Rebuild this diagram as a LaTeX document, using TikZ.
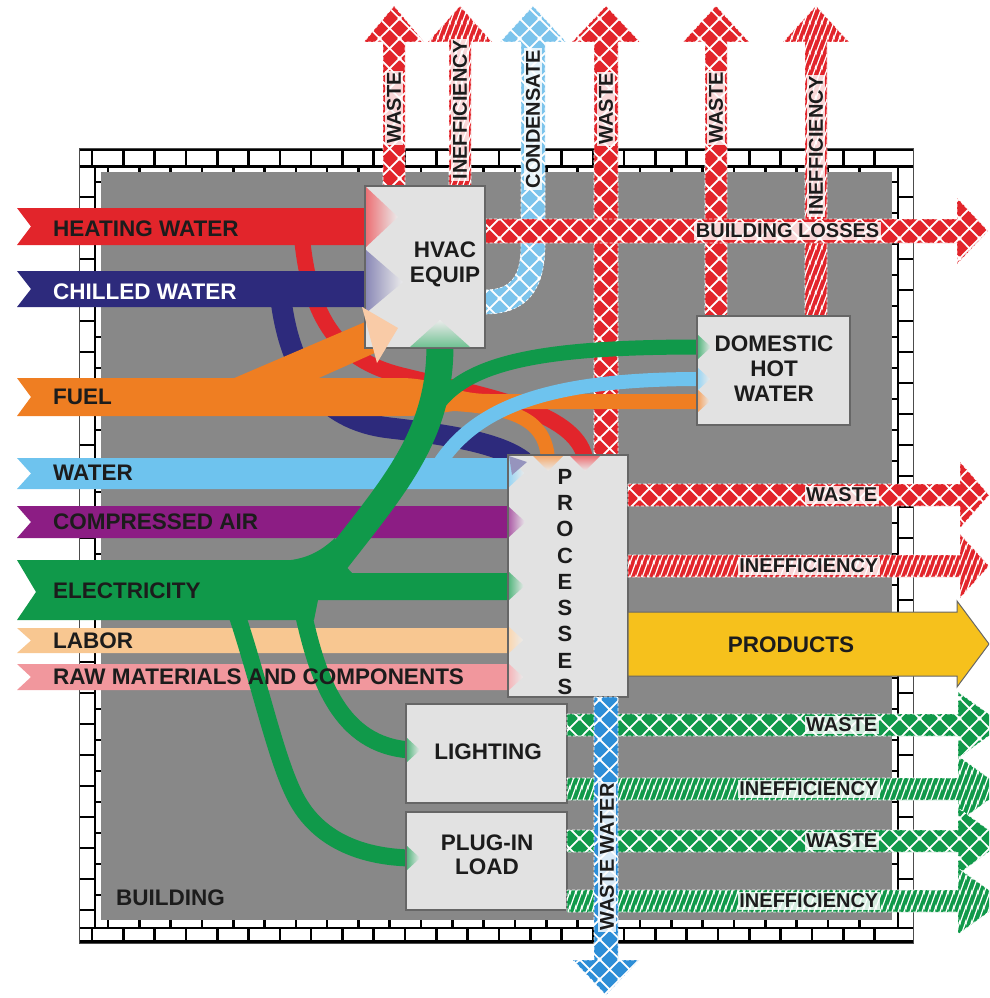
\documentclass[tikz,border=0pt]{standalone}
\usepackage{fontspec}
\setmainfont{Liberation Sans}
\usetikzlibrary{patterns}
\definecolor{wallgray}{HTML}{888888}
\definecolor{boxfill}{HTML}{E2E2E2}
\definecolor{cred}{HTML}{E2252B}
\definecolor{cnavy}{HTML}{2D2A7C}
\definecolor{corange}{HTML}{EF7E22}
\definecolor{clblue}{HTML}{6EC3EE}
\definecolor{ccond}{HTML}{7CC4EC}
\definecolor{cpurple}{HTML}{8C1D84}
\definecolor{cgreen}{HTML}{10994A}
\definecolor{cpeach}{HTML}{F8C791}
\definecolor{cpink}{HTML}{F1979D}
\definecolor{cyellow}{HTML}{F6C11C}
\definecolor{cwblue}{HTML}{2D8ED7}
\definecolor{txt}{HTML}{1C1C1C}
\pgfdeclarepatternformonly{bigcross}{\pgfqpoint{0pt}{0pt}}{\pgfqpoint{20pt}{20pt}}{\pgfqpoint{20pt}{20pt}}{%
  \pgfsetlinewidth{1.8pt}%
  \pgfpathmoveto{\pgfqpoint{-20pt}{0pt}}\pgfpathlineto{\pgfqpoint{20pt}{40pt}}%
  \pgfpathmoveto{\pgfqpoint{-20pt}{-20pt}}\pgfpathlineto{\pgfqpoint{40pt}{40pt}}%
  \pgfpathmoveto{\pgfqpoint{0pt}{-20pt}}\pgfpathlineto{\pgfqpoint{40pt}{20pt}}%
  \pgfpathmoveto{\pgfqpoint{-20pt}{20pt}}\pgfpathlineto{\pgfqpoint{20pt}{-20pt}}%
  \pgfpathmoveto{\pgfqpoint{-20pt}{40pt}}\pgfpathlineto{\pgfqpoint{40pt}{-20pt}}%
  \pgfpathmoveto{\pgfqpoint{0pt}{40pt}}\pgfpathlineto{\pgfqpoint{40pt}{0pt}}%
  \pgfusepath{stroke}}
\pgfdeclarepatternformonly{steeplines}{\pgfqpoint{0pt}{0pt}}{\pgfqpoint{6pt}{15pt}}{\pgfqpoint{6pt}{15pt}}{%
  \pgfsetlinewidth{1.4pt}%
  \pgfpathmoveto{\pgfqpoint{-6pt}{-15pt}}\pgfpathlineto{\pgfqpoint{12pt}{30pt}}%
  \pgfpathmoveto{\pgfqpoint{-12pt}{-15pt}}\pgfpathlineto{\pgfqpoint{6pt}{30pt}}%
  \pgfpathmoveto{\pgfqpoint{0pt}{-15pt}}\pgfpathlineto{\pgfqpoint{18pt}{30pt}}%
  \pgfusepath{stroke}}
\newcommand{\HArrow}[7][]{\path[#1] (#2,#3-#4) -- (#5,#3-#4) -- (#5,#3-#6) -- (#7,#3) -- (#5,#3+#6) -- (#5,#3+#4) -- (#2,#3+#4) -- cycle;}
\newcommand{\VArrow}[7][]{\path[#1] (#2-#4,#3) -- (#2-#4,#5) -- (#2-#6,#5) -- (#2,#7) -- (#2+#6,#5) -- (#2+#4,#5) -- (#2+#4,#3) -- cycle;}
\newcommand{\InBand}[4]{\fill[#1] (17,#2) -- (#4,#2) -- (#4,#3) -- (17,#3) -- (31,{(#2+#3)/2}) -- cycle;}
\newcommand{\TriR}[4]{\shade[left color=#1!70!white, right color=white!92!black] (#2,{#3-#4}) -- ({#2+1.1*#4},#3) -- (#2,{#3+#4}) -- cycle;}
\tikzset{
  lbl/.style={font=\fontsize{22.5}{25}\selectfont\bfseries, text=txt, inner sep=0pt},
  olbl/.style={font=\fontsize{20}{22}\selectfont\bfseries, text=txt, fill=white, fill opacity=0.82, text opacity=1, inner sep=1.5pt},
  box/.style={draw=black!60, line width=1.2pt, fill=boxfill, inner sep=0pt, outer sep=0pt},
  xhatch/.style={preaction={fill=#1}, pattern=bigcross, pattern color=white, draw=white, densely dashed, line width=0.6pt},
  lhatch/.style={preaction={fill=#1}, pattern=steeplines, pattern color=white, draw=white, densely dashed, line width=0.6pt},
  flow/.style={line width=#1, line cap=butt}
}
\begin{document}
\begin{tikzpicture}[x=1pt,y=-1pt]
\useasboundingbox (0,0) rectangle (989,998);
\clip (0,0) rectangle (989,998);
% ---------- building wall ----------
\fill[white] (79,148) rectangle (913,943);
\fill[wallgray] (101,172) rectangle (892,920);
\begin{scope}[line width=2.6pt, black]
  \draw (79,149.5) -- (913,149.5);
  \draw (79,166.5) -- (913,166.5);
  \draw (79,928) -- (913,928);
  \draw (79,941.5) -- (913,941.5);
  \draw (95,166.5) -- (95,928);
  \draw (898,166.5) -- (898,928);
  \foreach \x in {92,123.3,...,905} \draw (\x,149.5) -- (\x,166.5);
  \foreach \x in {108,139.3,...,890} \draw (\x,166.5) -- (\x,172);
  \foreach \x in {92,123.3,...,905} \draw (\x,928) -- (\x,941.5);
  \foreach \x in {108,139.3,...,890} \draw (\x,920) -- (\x,928);
  \foreach \y in {197,228,...,915} {\draw (79,\y) -- (95,\y); \draw (898,\y) -- (913,\y);}
  \foreach \y in {182,213,...,915} {\draw (95,\y) -- (101,\y); \draw (892,\y) -- (898,\y);}
\end{scope}
\draw[black!70, line width=1pt] (79,148) rectangle (913,943);
% ---------- upward losses ----------
\VArrow[xhatch=cred]{394}{190}{11}{42}{30}{6}
\VArrow[lhatch=cred]{460}{190}{11}{42}{32}{6}
\path[xhatch=ccond] (485,290) .. controls (512,290) and (521,275) .. (521,245) -- (521,42) -- (500,42) -- (533,6) -- (566,42) -- (545,42) -- (545,245) .. controls (545,292) and (525,314) .. (485,314) -- cycle;
\VArrow[xhatch=cred]{606}{458}{12}{42}{34}{6}
\VArrow[xhatch=cred]{716}{318}{11}{42}{33}{6}
\VArrow[lhatch=cred]{816}{318}{11}{42}{33}{6}
\HArrow[xhatch=cred]{484}{231}{12}{957}{33}{988}
% ---------- inputs ----------
\draw[cred, flow=16] (302,238) .. controls (310,320) and (340,360) .. (400,375) .. controls (480,395) and (575,410) .. (585,458);
\InBand{cred}{208}{245}{367}
\InBand{cnavy}{271}{307}{367}
\draw[cnavy, flow=21] (281,300) .. controls (290,370) and (320,420) .. (390,428) .. controls (450,435) and (500,443) .. (524,462);
\fill[corange] (17,378) -- (400,378) .. controls (440,378) and (450,394) .. (490,394) -- (697,394) -- (697,409) -- (480,409) .. controls (450,409) and (440,416) .. (400,416) -- (17,416) -- (31,397) -- cycle;
\fill[corange] (232,379) -- (365,322) -- (377,352) -- (292,390) -- cycle;
\draw[corange, flow=14] (455,404) .. controls (515,408) and (546,420) .. (548,460);
\InBand{clblue}{458}{489}{509}
\InBand{cpurple}{506}{538}{509}
\InBand{cpeach}{628}{653}{509}
\InBand{cpink}{664}{690}{509}
\fill[cgreen] (17,560) -- (340,560) -- (352,573) -- (509,573) -- (509,600) -- (318,600) -- (314,620) -- (17,620) -- (36,592) -- cycle;
\draw[cgreen, flow=27] (325,575) .. controls (390,490) and (440,440) .. (440,345);
\fill[cgreen] (280,561) .. controls (305,560) and (320,552) .. (335,538) -- (345,566) -- cycle;
\draw[cgreen, flow=17] (303,612) .. controls (318,680) and (340,745) .. (410,750);
\draw[cgreen, flow=17] (236,612) .. controls (262,690) and (278,770) .. (300,805) .. controls (325,845) and (370,857) .. (410,858);
\draw[cgreen, flow=15] (437,405) .. controls (470,360) and (550,347) .. (700,347);
\draw[clblue, flow=14] (430,480) .. controls (465,410) and (540,379) .. (700,379);
% ---------- boxes ----------
\node[box, minimum width=120pt, minimum height=162pt] (hvac) at (425,267) {};
\node[box, minimum width=120pt, minimum height=242pt] (proc) at (568,576) {};
\node[box, minimum width=153pt, minimum height=109pt] (dhw) at (773.5,370.5) {};
\node[box, minimum width=161pt, minimum height=99pt] (light) at (486.5,753.5) {};
\node[box, minimum width=161pt, minimum height=98pt] (plug) at (486.5,861) {};
% ---------- arrow heads into boxes ----------
\shade[left color=cred!65!white, right color=white!92!black] (366,187) -- (398,217) -- (366,247) -- cycle;
\shade[left color=cnavy!55!white, right color=white!92!black] (366,250) -- (403,282) -- (366,313) -- cycle;
\fill[corange!40!white] (362,307) -- (398,328) -- (377,363) -- cycle;
\shade[top color=white!92!black, bottom color=cgreen!60!white] (410,347) -- (440,320) -- (470,347) -- cycle;
\TriR{cgreen}{698}{347}{12}
\TriR{clblue}{698}{379}{11}
\TriR{corange}{698}{401}{11}
\TriR{clblue}{509}{473}{14}
\TriR{cpurple}{509}{522}{15}
\TriR{cgreen}{509}{586}{14}
\TriR{cpeach}{509}{640}{13}
\TriR{cpink}{509}{677}{13}
\TriR{cgreen}{407}{750}{12}
\TriR{cgreen}{407}{858}{12}
\fill[cnavy!50!white] (509,456) -- (527,462) -- (512,475) -- cycle;
\shade[top color=corange!65!white, bottom color=white!92!black] (533,456) -- (548,471) -- (563,456) -- cycle;
\shade[top color=cred!65!white, bottom color=white!92!black] (570,456) -- (585,471) -- (600,456) -- cycle;
% ---------- outputs ----------
\HArrow[xhatch=cred]{628}{495}{11}{960}{33}{989}
\HArrow[lhatch=cred]{628}{566}{11}{960}{32}{989}
\HArrow[fill=cyellow, draw=black!60, line width=1pt]{628}{644}{32}{957}{43}{989}
\HArrow[xhatch=cgreen]{567}{725}{11}{958}{33}{1004}
\HArrow[lhatch=cgreen]{567}{789}{11}{958}{33}{1004}
\HArrow[xhatch=cgreen]{567}{841}{11}{958}{33}{1004}
\HArrow[lhatch=cgreen]{567}{901}{11}{958}{33}{1004}
\VArrow[xhatch=cwblue]{606}{697}{12}{960}{33}{995}
% ---------- texts ----------
\node[lbl, anchor=west] (thw) at (53,229) {HEATING WATER};
\node[lbl, anchor=west, text=white] (tcw) at (53,292) {CHILLED WATER};
\node[lbl, anchor=west] (tfu) at (53,397) {FUEL};
\node[lbl, anchor=west] (twa) at (53,473) {WATER};
\node[lbl, anchor=west] (tca) at (53,522) {COMPRESSED AIR};
\node[lbl, anchor=west] (tel) at (53,591) {ELECTRICITY};
\node[lbl, anchor=west] (tla) at (53,641) {LABOR};
\node[lbl, anchor=west] (tra) at (53,677) {RAW MATERIALS AND COMPONENTS};
\node[lbl, anchor=west] (tbu) at (116,898) {BUILDING};
\node[lbl, align=center] (thvac) at (445,264) {HVAC\\EQUIP};
\node[lbl, align=center, font=\fontsize{22}{26.25}\selectfont\bfseries] (tproc) at (565,582) {P\\R\\O\\C\\E\\S\\S\\E\\S};
\node[lbl, align=center] (tdhw) at (774,369) {DOMESTIC\\HOT\\WATER};
\node[lbl] (tlight) at (488,752) {LIGHTING};
\node[lbl, align=center, font=\fontsize{22.5}{24}\selectfont\bfseries] (tplug) at (487,855) {PLUG-IN\\LOAD};
\node[lbl] (tprod) at (791,645) {PRODUCTS};
\node[olbl, anchor=east] (lbl1) at (881,231) {BUILDING LOSSES};
\node[olbl, anchor=east] (lbl2) at (879,495) {WASTE};
\node[olbl, anchor=east] (lbl3) at (880,566) {INEFFICIENCY};
\node[olbl, anchor=east] (lbl4) at (879,725) {WASTE};
\node[olbl, anchor=east] (lbl5) at (880,789) {INEFFICIENCY};
\node[olbl, anchor=east] (lbl6) at (879,841) {WASTE};
\node[olbl, anchor=east] (lbl7) at (880,901) {INEFFICIENCY};
\node[olbl, rotate=90] (lbl8) at (394,108) {WASTE};
\node[olbl, rotate=90] (lbl9) at (460,110) {INEFFICIENCY};
\node[olbl, rotate=90] (lbl10) at (533,119) {CONDENSATE};
\node[olbl, rotate=90] (lbl11) at (606,109) {WASTE};
\node[olbl, rotate=90] (lbl12) at (716,108) {WASTE};
\node[olbl, rotate=90] (lbl13) at (816,146) {INEFFICIENCY};
\node[olbl, rotate=90] (lbl14) at (607,857) {WASTE WATER};
\end{tikzpicture}
\end{document}
